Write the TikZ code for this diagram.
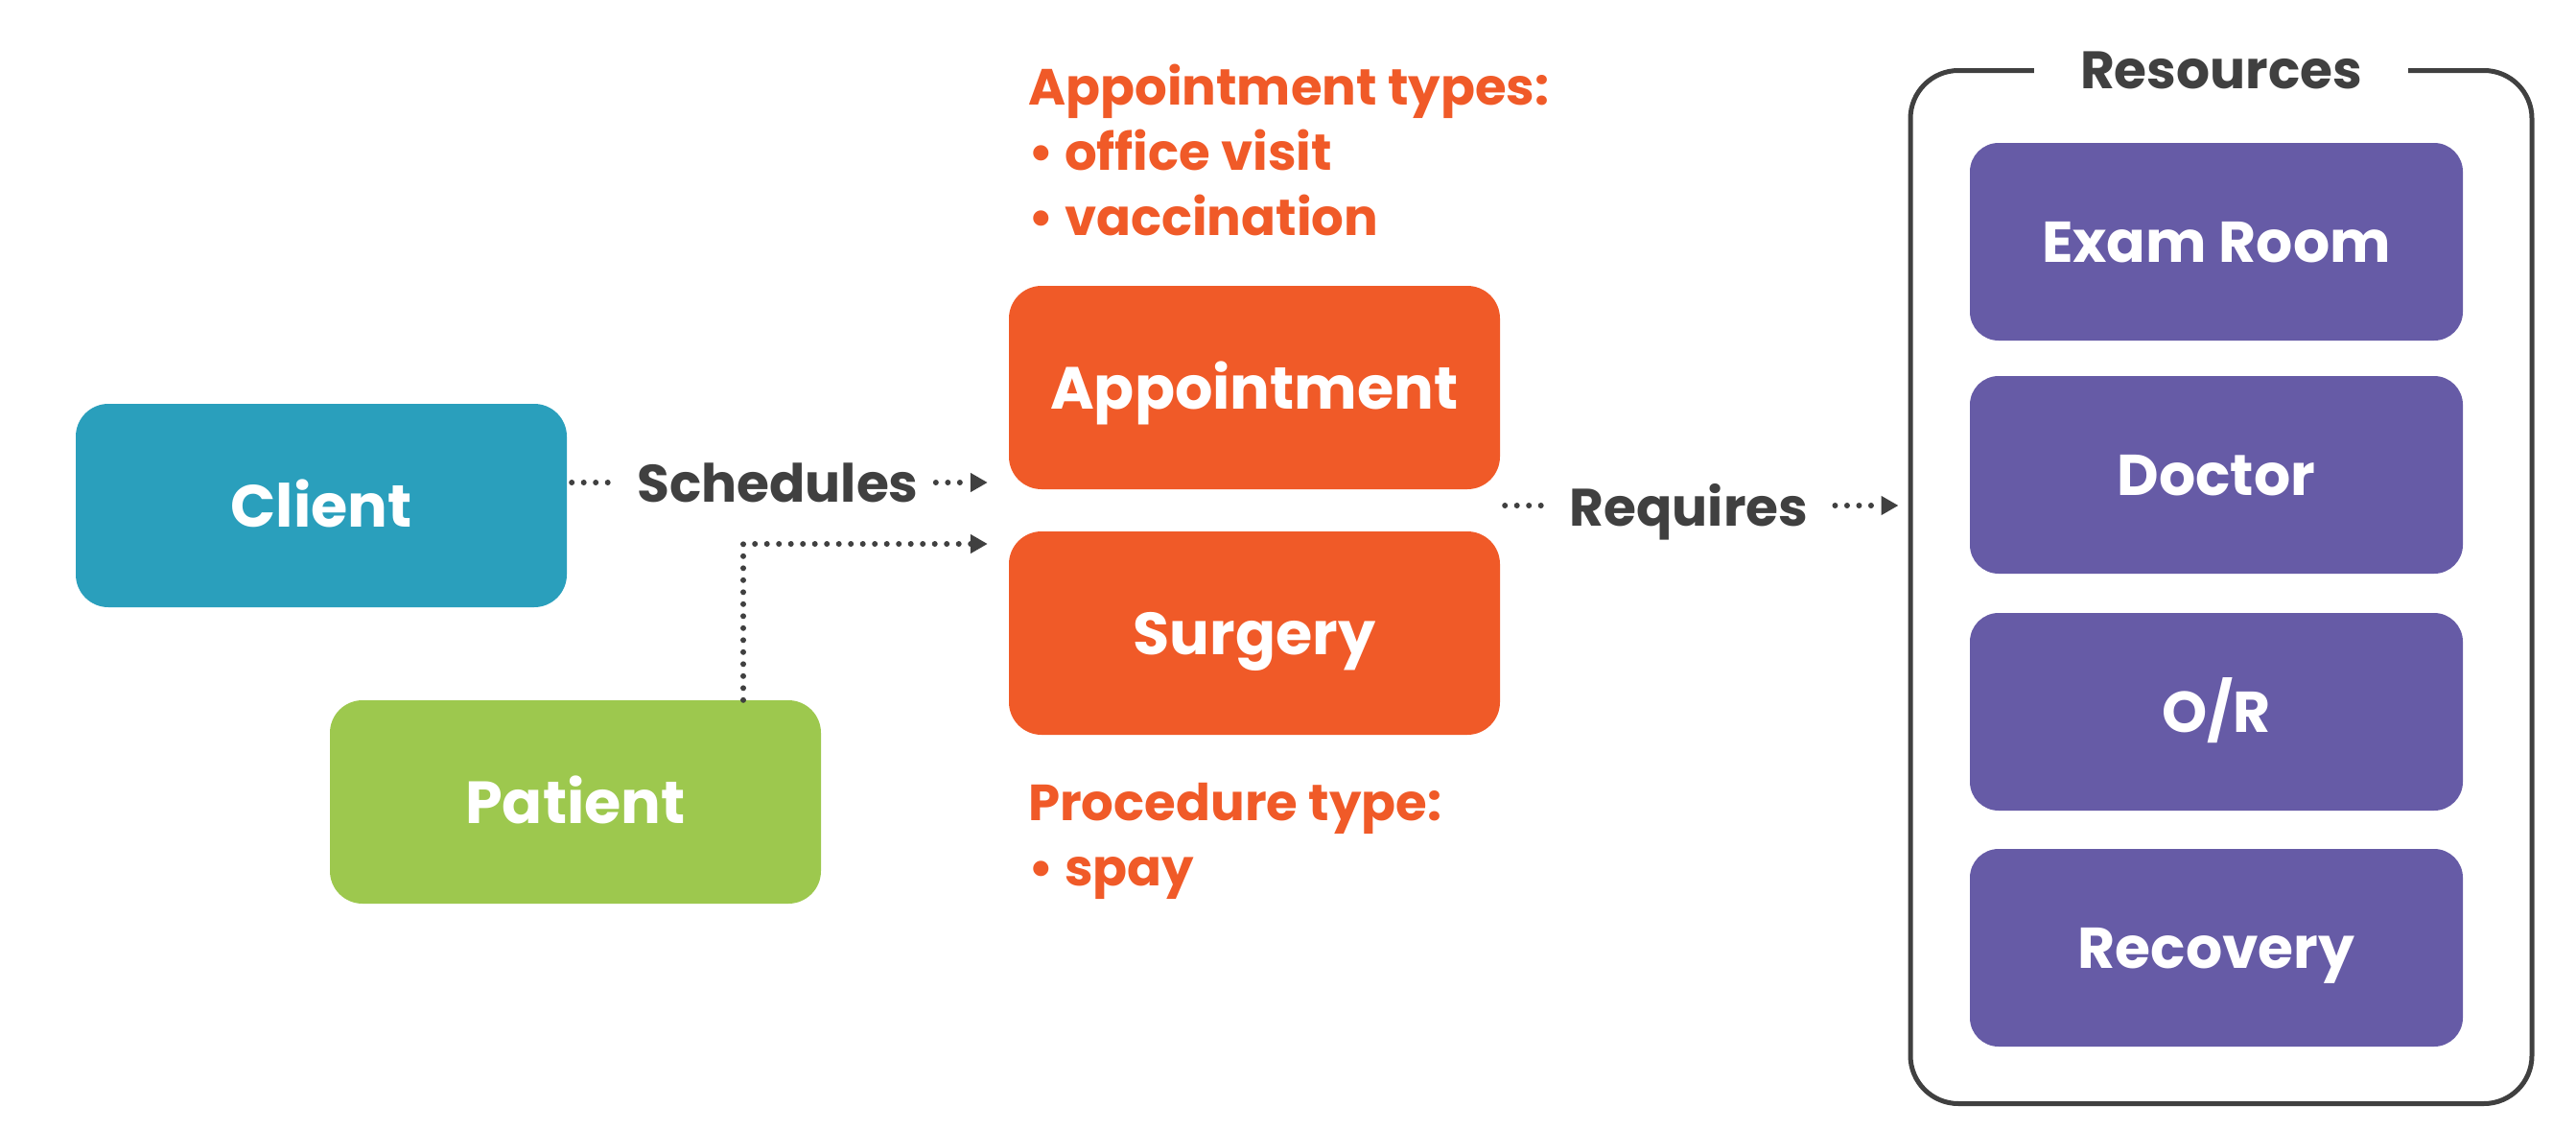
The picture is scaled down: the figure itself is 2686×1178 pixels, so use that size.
\documentclass[tikz,border=0pt]{standalone}
\usepackage{fontspec}
\setmainfont{Poppins}
\usetikzlibrary{arrows.meta,positioning}
\definecolor{cteal}{HTML}{2A9FBC}
\definecolor{cgreen}{HTML}{9DC84E}
\definecolor{corange}{HTML}{F05A28}
\definecolor{cpurple}{HTML}{665BA6}
\definecolor{cdark}{HTML}{404040}
\tikzset{
  boxnode/.style={rectangle, rounded corners=34pt, minimum width=512pt, minimum height=212pt, text=white, font=\fontsize{62}{70}\selectfont\bfseries, inner sep=0pt, text height=44pt, text depth=0pt},
  resnode/.style={rectangle, rounded corners=30pt, fill=cpurple, minimum width=514pt, minimum height=206pt, text=white, font=\fontsize{60}{70}\selectfont\bfseries, inner sep=0pt, text height=42pt, text depth=0pt},
  lbl/.style={text=cdark, font=\fontsize{55}{64}\selectfont\bfseries, inner sep=0pt},
  note/.style={text=corange, font=\fontsize{53}{70}\selectfont\bfseries, inner sep=0pt, align=left},
  dotline/.style={draw=cdark, line width=6pt, line cap=round, dash pattern=on 0pt off 12.5pt},
  tip/.style={-{Triangle[length=18pt,width=19pt]}}
}
\begin{document}
\begin{tikzpicture}[x=1pt,y=-1pt]
\useasboundingbox (0,0) rectangle (2686,1178);
% main boxes
\node[boxnode, fill=cteal] (client) at (335,527) {Client};
\node[boxnode, fill=cgreen] (patient) at (600,836) {Patient};
\node[boxnode, fill=corange] (appt) at (1308,404) {Appointment};
\node[boxnode, fill=corange] (surg) at (1308,660) {Surgery};
% notes
\node[note, anchor=west] (apptypes) at (1072,156) {Appointment types:\\[-2pt]\textbullet\ office visit\\[-2pt]\textbullet\ vaccination};
\node[note, anchor=west] (proctype) at (1072,877) {Procedure type:\\[-2pt]\textbullet\ spay};
% resources frame
\node[draw=cdark, line width=5pt, rounded corners=50pt, minimum width=648pt, minimum height=1077pt, inner sep=0pt] (res) at (2316,612) {};
\node[lbl, fill=white, inner xsep=48pt, inner ysep=6pt, anchor=base] (restitle) at (2316,92) {Resources};
\node[resnode] (exam) at (2311,252) {Exam Room};
\node[resnode] (doctor) at (2311,495) {Doctor};
\node[resnode] (or) at (2311,742) {O/R};
\node[resnode] (recovery) at (2311,988) {Recovery};
% labels
\node[lbl, anchor=base] (sched) at (811,523) {Schedules};
\node[lbl, anchor=base] (req) at (1761,548) {Requires};
% helper coordinates
\coordinate (yS) at (0,503);
\coordinate (yP) at (0,567);
\coordinate (xP) at (775,0);
\coordinate (yR) at (0,527);
% connectors
\draw[dotline, shorten <=5pt, shorten >=20pt] (client.east |- yS) -- (sched.west |- yS);
\draw[dotline, tip, shorten <=18pt, shorten >=22pt] (sched.east |- yS) -- (appt.west |- yS);
\draw[dotline, tip, shorten >=22pt] (patient.north -| xP) |- (surg.west |- yP);
\draw[dotline, shorten <=5pt, shorten >=20pt] (appt.east |- yR) -- (req.west |- yR);
\draw[dotline, tip, shorten <=28pt, shorten >=10pt] (req.east |- yR) -- (res.west |- yR);
\end{tikzpicture}
\end{document}
